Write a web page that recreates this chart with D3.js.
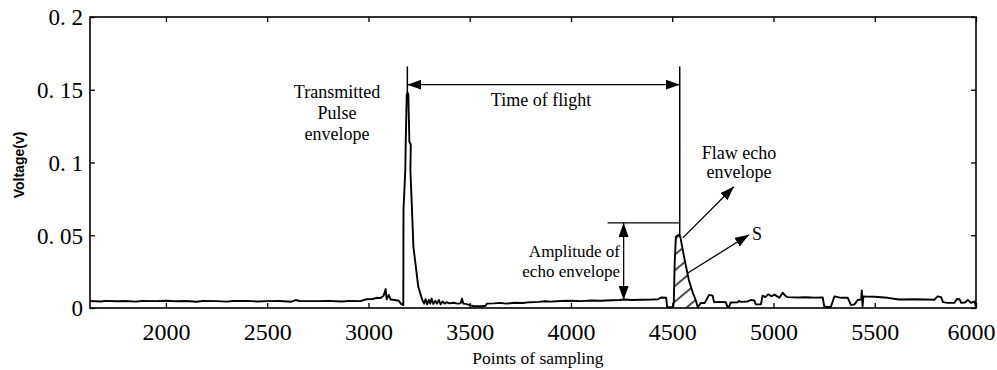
<!DOCTYPE html>
<html>
<head>
<meta charset="utf-8">
<script src="https://cdn.jsdelivr.net/npm/d3@7/dist/d3.min.js"></script>
<style>
  body { margin: 0; background: #fff; }
  svg text { font-family: "Liberation Serif", "Times New Roman", serif; fill: #000; }
</style>
</head>
<body>
<div id="chart"></div>
<script>
var sampleX = [1625, 1680, 1700, 1760, 1800, 1850, 1880, 1950, 2000, 2050, 2100, 2150, 2180, 2250, 2300, 2330,
  2400, 2450, 2500, 2560, 2620, 2640, 2660, 2750, 2800, 2870, 2900, 2960, 2990, 3020, 3040, 3060, 3075, 3085,
  3090, 3100, 3110, 3130, 3150, 3160, 3172, 3173, 3182, 3184, 3189, 3193, 3197, 3202, 3209, 3207, 3215, 3222,
  3236, 3246, 3266, 3275, 3282, 3290, 3298, 3305, 3312, 3320, 3330, 3338, 3348, 3356, 3366, 3376, 3386, 3400,
  3420, 3440, 3455, 3462, 3468, 3480, 3500, 3520, 3560, 3578, 3585, 3620, 3650, 3680, 3720, 3760, 3800, 3840,
  3870, 3900, 3950, 4000, 4050, 4100, 4150, 4200, 4240, 4265, 4300, 4350, 4400, 4430, 4445, 4470, 4475, 4505,
  4508, 4512, 4518, 4528, 4535, 4540, 4560, 4582, 4602, 4616, 4626, 4641, 4660, 4682, 4699, 4707, 4730, 4765,
  4772, 4781, 4789, 4822, 4830, 4839, 4872, 4888, 4905, 4913, 4938, 4946, 4960, 4975, 4990, 5005, 5020, 5029,
  5045, 5062, 5070, 5120, 5160, 5200, 5243, 5251, 5270, 5284, 5301, 5317, 5334, 5367, 5383, 5400, 5416, 5433,
  5436, 5440, 5444, 5460, 5500, 5564, 5620, 5700, 5795, 5810, 5828, 5837, 5860, 5894, 5905, 5919, 5927, 5945,
  5960, 5975, 5993, 6000];
var voltage = [0.0048, 0.0045, 0.0049, 0.0046, 0.0048, 0.0044, 0.0048, 0.0047, 0.0050, 0.0046, 0.0048, 0.0043,
  0.0048, 0.0047, 0.0044, 0.0048, 0.0049, 0.0045, 0.0047, 0.0048, 0.0043, 0.0055, 0.0048, 0.0047, 0.0049, 0.0045,
  0.0048, 0.0047, 0.0060, 0.0062, 0.0070, 0.0068, 0.0085, 0.0130, 0.0060, 0.0090, 0.0058, 0.0055, 0.0050, 0.0030,
  0.0020, 0.0675, 0.0950, 0.1136, 0.1466, 0.1480, 0.1466, 0.1143, 0.1122, 0.0950, 0.0675, 0.0420, 0.0260, 0.0145,
  0.0055, 0.0030, 0.0060, 0.0025, 0.0055, 0.0030, 0.0065, 0.0028, 0.0050, 0.0030, 0.0055, 0.0025, 0.0045, 0.0030,
  0.0040, 0.0032, 0.0036, 0.0030, 0.0032, 0.0065, 0.0030, 0.0028, 0.0020, 0.0012, 0.0012, 0.0015, 0.0030, 0.0032,
  0.0035, 0.0030, 0.0036, 0.0034, 0.0040, 0.0042, 0.0046, 0.0044, 0.0048, 0.0050, 0.0047, 0.0052, 0.0050, 0.0053,
  0.0055, 0.0058, 0.0055, 0.0057, 0.0058, 0.0060, 0.0072, 0.0070, 0.0005, 0.0005, 0.0050, 0.0300, 0.0489, 0.0500,
  0.0505, 0.0489, 0.0340, 0.0193, 0.0103, 0.0055, 0.0005, 0.0034, 0.0034, 0.0090, 0.0085, 0.0040, 0.0042, 0.0040,
  0.0008, 0.0010, 0.0038, 0.0040, 0.0048, 0.0042, 0.0045, 0.0055, 0.0052, 0.0025, 0.0025, 0.0085, 0.0075, 0.0095,
  0.0080, 0.0092, 0.0078, 0.0070, 0.0105, 0.0080, 0.0075, 0.0072, 0.0074, 0.0071, 0.0072, 0.0010, 0.0005, 0.0010,
  0.0080, 0.0075, 0.0070, 0.0070, 0.0020, 0.0025, 0.0055, 0.0058, 0.0120, 0.0010, 0.0080, 0.0078, 0.0077, 0.0070,
  0.0058, 0.0060, 0.0057, 0.0080, 0.0075, 0.0040, 0.0035, 0.0036, 0.0062, 0.0060, 0.0035, 0.0038, 0.0055, 0.0035,
  0.0045, 0.0005];

var xTicks = [2000, 2500, 3000, 3500, 4000, 4500, 5000, 5500, 6000];
var yTicks = [0, 0.05, 0.1, 0.15, 0.2];
var yTickLabels = ["0", "0. 05", "0. 1", "0. 15", "0. 2"];

// annotation anchors (data units)
var tofStart = 3192, tofEnd = 4537, tofTop = 0.166, tofArrow = 0.1535, pulsePeak = 0.148;
var ampLeft = 4181, ampX = 4260, ampTop = 0.0585, ampBottom = 0.0055, echoTop = 0.05;
var echoFrom = 4505, echoTo = 4626;

var margin = { top: 17, right: 21, bottom: 62, left: 90 },
    width = 997 - margin.left - margin.right,
    height = 370 - margin.top - margin.bottom;

var svg = d3.select("#chart").append("svg")
    .attr("width", 997)
    .attr("height", 370)
    .append("g")
    .attr("transform", "translate(" + margin.left + "," + margin.top + ")");

var x = d3.scaleLinear().domain([1625, 6000]).range([0, width]);
var y = d3.scaleLinear().domain([0, 0.2]).range([height, 0]);

var defs = svg.append("defs");
defs.append("marker")
    .attr("id", "arrow")
    .attr("viewBox", "0 0 14 10")
    .attr("refX", 14).attr("refY", 5)
    .attr("markerWidth", 14).attr("markerHeight", 10)
    .attr("markerUnits", "userSpaceOnUse")
    .attr("orient", "auto-start-reverse")
    .append("path").attr("d", "M0,0 L14,5 L0,10 z").attr("fill", "#000");

var hatch = defs.append("pattern")
    .attr("id", "hatch")
    .attr("patternUnits", "userSpaceOnUse")
    .attr("width", 12).attr("height", 12)
    .attr("patternTransform", "rotate(-40)");
hatch.append("line").attr("x1", 0).attr("y1", 6).attr("x2", 12).attr("y2", 6)
    .attr("stroke", "#000").attr("stroke-width", 1.4);

var points = sampleX.map(function (d, i) { return [d, voltage[i]]; });

// axes: inward ticks on all four sides
var xAxis = svg.append("g")
    .attr("transform", "translate(0," + height + ")")
    .call(d3.axisBottom(x).tickValues(xTicks).tickSizeInner(-5).tickSizeOuter(0).tickPadding(15).tickFormat(d3.format("d")));
xAxis.selectAll("text").style("font-size", "24px");
xAxis.selectAll(".tick:last-of-type text").attr("dx", "-5");
svg.append("g")
    .call(d3.axisTop(x).tickValues(xTicks).tickSizeInner(-5).tickSizeOuter(0).tickFormat(""));
var yAxis = svg.append("g")
    .call(d3.axisLeft(y).tickValues(yTicks).tickSizeInner(-5).tickSizeOuter(0).tickPadding(7)
        .tickFormat(function (d, i) { return yTickLabels[i]; }));
yAxis.selectAll("text").style("font-size", "23px").attr("dy", "0.34em");
svg.append("g")
    .attr("transform", "translate(" + width + ",0)")
    .call(d3.axisRight(y).tickValues(yTicks).tickSizeInner(-5).tickSizeOuter(0).tickFormat(""));
svg.selectAll(".domain").remove();
svg.selectAll(".tick line").attr("stroke", "#000").attr("stroke-width", 1.3);

svg.append("rect")
    .attr("width", width).attr("height", height)
    .attr("fill", "none").attr("stroke", "#000").attr("stroke-width", 1.6);

// hatched area S under the flaw echo
var echoPts = points.filter(function (d) { return d[0] >= echoFrom && d[0] <= echoTo; });
svg.append("path")
    .datum(echoPts)
    .attr("fill", "url(#hatch)")
    .attr("d", d3.area().x(function (d) { return x(d[0]); }).y0(y(0)).y1(function (d) { return y(d[1]); }));

svg.append("path")
    .datum(points)
    .attr("fill", "none")
    .attr("stroke", "#000")
    .attr("stroke-width", 1.9)
    .attr("stroke-linejoin", "round")
    .attr("d", d3.line().x(function (d) { return x(d[0]); }).y(function (d) { return y(d[1]); }));

// time of flight
svg.append("line").attr("x1", x(tofStart)).attr("x2", x(tofStart)).attr("y1", y(tofTop)).attr("y2", y(pulsePeak))
    .attr("stroke", "#000").attr("stroke-width", 1.5);
svg.append("line").attr("x1", x(tofEnd)).attr("x2", x(tofEnd)).attr("y1", y(tofTop)).attr("y2", y(echoTop))
    .attr("stroke", "#000").attr("stroke-width", 1.5);
svg.append("line").attr("x1", x(tofStart)).attr("x2", x(tofEnd)).attr("y1", y(tofArrow)).attr("y2", y(tofArrow))
    .attr("stroke", "#000").attr("stroke-width", 1.3)
    .attr("marker-start", "url(#arrow)").attr("marker-end", "url(#arrow)");

// amplitude of echo envelope
svg.append("line").attr("x1", x(ampLeft)).attr("x2", x(tofEnd)).attr("y1", y(ampTop)).attr("y2", y(ampTop))
    .attr("stroke", "#000").attr("stroke-width", 1.3);
svg.append("line").attr("x1", x(ampX)).attr("x2", x(ampX)).attr("y1", y(ampTop)).attr("y2", y(ampBottom))
    .attr("stroke", "#000").attr("stroke-width", 1.3)
    .attr("marker-start", "url(#arrow)").attr("marker-end", "url(#arrow)");

// pointers to echo and S
svg.append("line").attr("x1", x(4552)).attr("y1", y(0.0482)).attr("x2", x(4804)).attr("y2", y(0.0833))
    .attr("stroke", "#000").attr("stroke-width", 1.3).attr("marker-end", "url(#arrow)");
svg.append("line").attr("x1", x(4577)).attr("y1", y(0.0241)).attr("x2", x(4879)).attr("y2", y(0.0503))
    .attr("stroke", "#000").attr("stroke-width", 1.3).attr("marker-end", "url(#arrow)");

var root = d3.select("svg");
function label(txt, px, py, anchor, size) {
    root.append("text").attr("x", px).attr("y", py)
        .attr("text-anchor", anchor || "middle")
        .style("font-size", (size || 18) + "px")
        .text(txt);
}
label("Transmitted", 337, 98);
label("Pulse", 337, 119);
label("envelope", 337, 140);
label("Time of flight", 541, 106);
label("Flaw echo", 739, 159);
label("envelope", 739, 178);
label("S", 752, 240, "start");
label("Amplitude  of", 620, 257, "end", 17);
label("echo envelope", 620, 277, "end", 17);
label("Points of  sampling", 538, 364, "middle", 17.5);

root.append("text")
    .attr("transform", "translate(24,165) rotate(-90)")
    .attr("text-anchor", "middle")
    .style("font-family", "'Liberation Sans', Arial, sans-serif")
    .style("font-weight", "bold")
    .style("font-size", "14px")
    .text("Voltage(v)");
</script>
</body>
</html>
